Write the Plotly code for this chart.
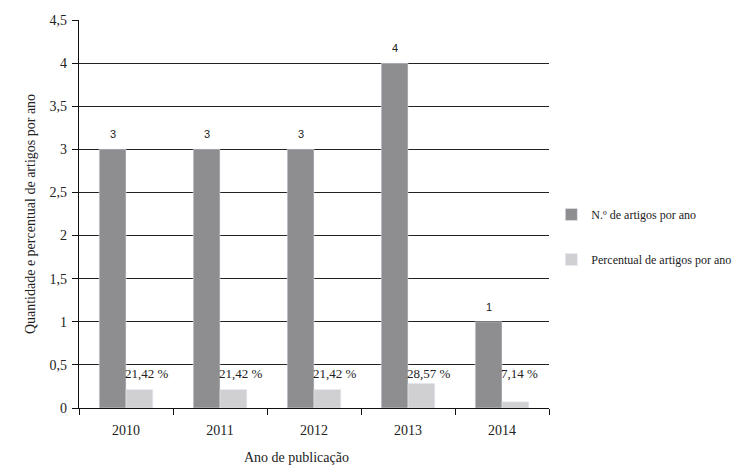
import plotly.graph_objects as go

years = ["2010", "2011", "2012", "2013", "2014"]
counts = [3, 3, 3, 4, 1]
count_labels = ["3", "3", "3", "4", "1"]
percent_values = [0.2142, 0.2142, 0.2142, 0.2857, 0.0714]
percent_labels = ["21,42 %", "21,42 %", "21,42 %", "28,57 %", "7,14 %"]
y_tick_values = [0, 0.5, 1, 1.5, 2, 2.5, 3, 3.5, 4, 4.5]
y_tick_labels = ["0", "0,5", "1", "1,5", "2", "2,5", "3", "3,5", "4", "4,5"]
count_name = "N.º de artigos por ano"
percent_name = "Percentual de artigos por ano"
y_title = "Quantidade e percentual de artigos por ano"
x_title = "Ano de publicação"

SERIF = "Liberation Serif, Times New Roman, serif"
OFF = 8  # page body margin of the html page
W, H = 741 - OFF, 474 - OFF
L, T = 79 - OFF, 20 - OFF
PW, PH = 470, 388
R, B = W - L - PW, H - T - PH

fig = go.Figure()
fig.add_trace(go.Bar(
    x=years, y=counts, name=count_name,
    marker_color="#8e8e91", legendgroup="a",
))
fig.add_trace(go.Bar(
    x=years, y=percent_values, name=percent_name,
    marker_color="#d0d0d2", legendgroup="b",
))

# category index positions (annotations on a category axis with numeric-looking names)
for i, (c, lab) in enumerate(zip(counts, count_labels)):
    fig.add_annotation(x=i, y=c, text=lab, showarrow=False,
                       xanchor="center", yanchor="bottom", xshift=-13.5, yshift=7,
                       font=dict(family="Liberation Sans, Arial, sans-serif", size=11, color="#222"))

for i, lab in enumerate(percent_labels):
    fig.add_annotation(x=i, y=0.397, text=lab, showarrow=False,
                       xanchor="left", yanchor="middle", xshift=-3,
                       font=dict(family=SERIF, size=13, color="#222"))

fig.add_annotation(x=(296 - 79) / PW, y=(408 - 457) / PH, xref="paper", yref="paper",
                   text=x_title, showarrow=False, xanchor="center", yanchor="middle",
                   font=dict(family=SERIF, size=14, color="#222"))

fig.update_layout(
    width=W, height=H,
    margin=dict(l=L, r=R, t=T, b=B, autoexpand=False),
    paper_bgcolor="white", plot_bgcolor="white",
    barmode="group", bargap=0.43, bargroupgap=0,
    font=dict(family=SERIF, size=13, color="#222"),
    legend=dict(x=1.005, y=0.536, xanchor="left", yanchor="top",
                traceorder="grouped", tracegroupgap=26, itemwidth=30,
                font=dict(family=SERIF, size=12, color="#222")),
    xaxis=dict(type="category", range=[-0.5, len(years) - 0.5],
               showline=True, linecolor="#111", linewidth=1.2,
               ticks="outside", tickson="boundaries", ticklen=6, tickcolor="#111",
               ticklabelstandoff=9,
               tickfont=dict(family=SERIF, size=14, color="#222")),
    yaxis=dict(range=[0, 4.5], tickvals=y_tick_values, ticktext=y_tick_labels,
               showline=True, linecolor="#111", linewidth=1.2,
               ticks="outside", ticklen=6, tickcolor="#111",
               ticklabelstandoff=2,
               showgrid=True, gridcolor="#222", gridwidth=1.2, zeroline=False,
               tickfont=dict(family=SERIF, size=14, color="#222"),
               title=dict(text=y_title, standoff=10,
                          font=dict(family=SERIF, size=14, color="#222"))),
)

fig.write_html("out.html")
